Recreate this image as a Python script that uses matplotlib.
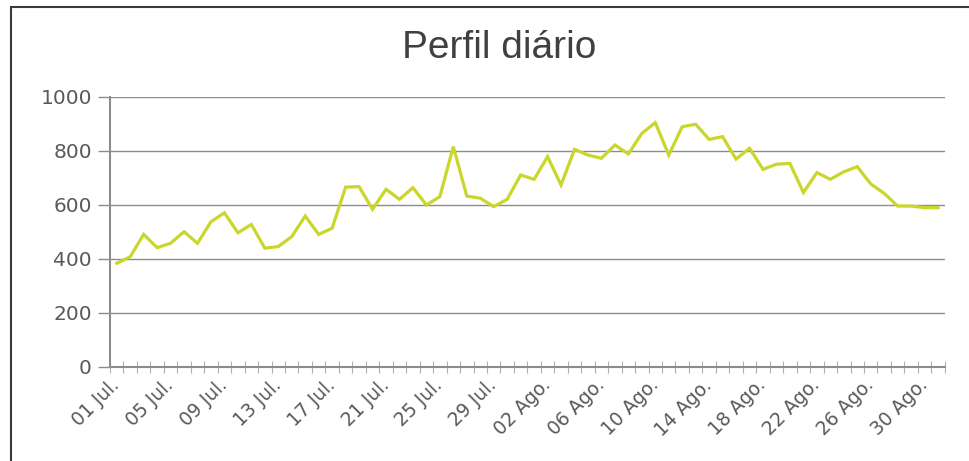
import numpy as np
import matplotlib.pyplot as plt
from matplotlib.patches import Rectangle
from matplotlib.ticker import FixedLocator

plt.rcParams['font.family'] = ['DejaVu Sans']

# daily values, 01 Jul -> 31 Ago
jul_values = [384, 408, 491, 442, 458, 501, 458, 538, 571, 497, 528,
              440, 446, 483, 559, 491, 514, 666, 668, 584, 658, 621,
              664, 600, 631, 816, 633, 625, 594, 621, 711]
ago_values = [695, 779, 674, 806, 785, 773, 822, 789, 865, 905, 785,
              890, 899, 843, 853, 770, 810, 732, 751, 754, 646, 720,
              695, 723, 742, 678, 643, 596, 596, 590, 590]

day_labels = ['%02d Jul.' % d for d in range(1, 32)] + \
             ['%02d Ago.' % d for d in range(1, 32)]
values = jul_values + ago_values
title = 'Perfil diário'

line_color = '#cbd62a'
axis_color = '#8c8c8c'
text_color = '#595959'

fig = plt.figure(figsize=(9.69, 4.61), dpi=100)
ax = fig.add_axes([0.1135, 0.204, 0.8615, 0.5856])

x = np.arange(len(values))
ax.plot(x, values, color=line_color, linewidth=2.3, solid_joinstyle='miter', zorder=3)

ax.set_xlim(-0.5, len(values) - 0.5)
ax.set_ylim(0, 1000)
ax.set_yticks(np.arange(0, 1001, 200))
ax.yaxis.grid(True, color=axis_color, linewidth=1.0)
ax.set_axisbelow(True)

# labels every 4 days, ticks between every category
ax.set_xticks(x[::4])
ax.set_xticklabels(day_labels[::4], rotation=45, ha='right', va='center',
                   rotation_mode='anchor')
ax.xaxis.set_minor_locator(FixedLocator(np.arange(-0.5, len(values), 1.0)))
ax.tick_params(axis='x', which='major', length=0, pad=11, labelsize=13.5,
               labelcolor=text_color)
ax.tick_params(axis='x', which='minor', direction='inout', length=8,
               width=0.8, color='#b0b0b0')
ax.tick_params(axis='y', length=9, width=1.0, color=axis_color, pad=4,
               labelsize=14.5, labelcolor=text_color)

for s in ['top', 'right']:
    ax.spines[s].set_visible(False)
for s in ['left', 'bottom']:
    ax.spines[s].set_color(axis_color)
    ax.spines[s].set_linewidth(1.5)

fig.text(0.515, 0.896, title, fontsize=28, color='#404040', ha='center',
         va='center', family='Liberation Sans')

# outer chart frame (top and left edges visible)
fig.patches.append(Rectangle((11 / 969, -0.1), 1.2, 1 - 7 / 461 + 0.1,
                             transform=fig.transFigure, fill=False,
                             edgecolor='#3a3a3a', linewidth=1.5))

fig.savefig('out.png', dpi=100)
